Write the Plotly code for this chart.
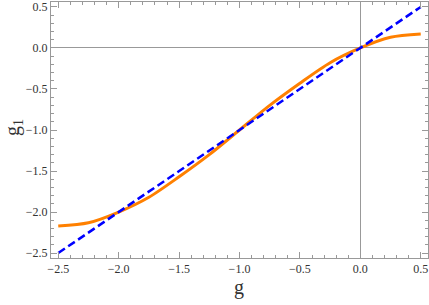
import plotly.graph_objects as go

# data
g_vals = [-2.5, -2.25, -2.0, -1.75, -1.5, -1.25, -1.0, -0.75, -0.5, -0.25, 0.0, 0.25, 0.5]
g1_vals = [-2.17, -2.13, -2.0, -1.82, -1.57, -1.30, -1.0, -0.70, -0.43, -0.18, 0.0, 0.13, 0.17]
line_g = [-2.5, 0.5]
line_g1 = [-2.5, 0.5]

W, H = 429, 305
L, R, T, B = 51, 1, 2, 47
pw, ph = W - L - R, H - T - B

SERIF = "Liberation Serif, Times New Roman, serif"

fig = go.Figure()
fig.add_trace(go.Scatter(x=g_vals, y=g1_vals, mode="lines", line=dict(color="#FF8000", width=3, shape="spline", smoothing=0.8), showlegend=False))
fig.add_trace(go.Scatter(x=line_g, y=line_g1, mode="lines", line=dict(color="#0000FF", width=2.5, dash="8px,4px"), showlegend=False))

axis_common = dict(
    showgrid=False, zeroline=True, zerolinecolor="#999999", zerolinewidth=1,
    showline=True, linecolor="#999999", linewidth=1, mirror="ticks",
    ticks="inside", ticklen=6, tickcolor="#999999", tickwidth=1,
    dtick=0.5, tick0=0, tickformat=".1f", automargin=False,
    tickfont=dict(family=SERIF, size=12, color="#333333"),
    minor=dict(ticks="inside", ticklen=3, dtick=0.1, tickcolor="#999999", tickwidth=1),
)
fig.update_xaxes(range=[-2.56, 0.56], **axis_common)
fig.update_yaxes(range=[-2.56, 0.56], **axis_common)

fig.add_annotation(text="g", xref="paper", yref="paper", x=(239 - L) / pw, y=(T + ph - 287) / ph,
                   showarrow=False, xanchor="center", yanchor="middle",
                   font=dict(family=SERIF, size=20, color="#333333"))
fig.add_annotation(text="g<sub>1</sub>", xref="paper", yref="paper", x=(13 - L) / pw, y=(T + ph - 128) / ph,
                   showarrow=False, xanchor="center", yanchor="middle", textangle=-90,
                   font=dict(family=SERIF, size=20, color="#333333"))

fig.update_layout(width=W, height=H, margin=dict(l=L, r=R, t=T, b=B, autoexpand=False),
                  font=dict(family=SERIF, size=12, color="#333333"),
                  paper_bgcolor="white", plot_bgcolor="white", showlegend=False)
fig.write_html("out.html", config={"displayModeBar": False},
               post_script="document.body.style.margin='0';document.body.style.overflow='hidden';")
